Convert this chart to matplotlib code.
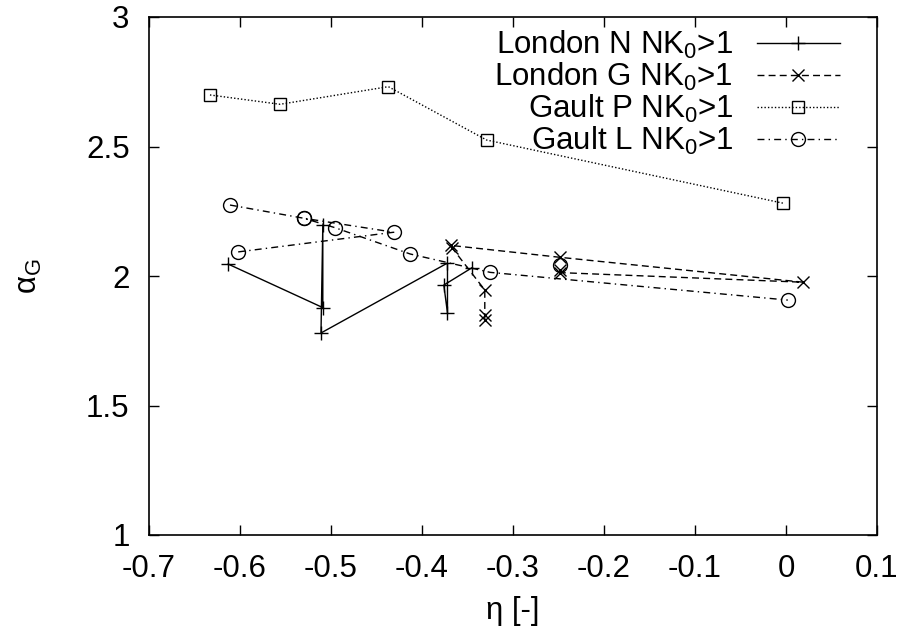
import numpy as np
import matplotlib
matplotlib.use('Agg')
import matplotlib.pyplot as plt
from matplotlib.ticker import FormatStrFormatter

plt.rcParams['font.family'] = ['Liberation Sans', 'DejaVu Sans']
plt.rcParams['mathtext.fontset'] = 'custom'
plt.rcParams['mathtext.rm'] = 'Liberation Sans'
plt.rcParams['axes.unicode_minus'] = False

nan = np.nan

# London N NK0>1
london_n_eta = [-0.613, -0.509, -0.509, -0.511, -0.372, -0.372, -0.376, -0.345]
london_n_alpha = [2.046, 1.878, 2.197, 1.780, 2.050, 1.857, 1.965, 2.032]

# London G NK0>1
london_g_eta = [-0.331, -0.331, -0.331, -0.367, -0.368, -0.248, 0.019, -0.248, -0.248]
london_g_alpha = [1.830, 1.849, 1.946, 2.109, 2.118, 2.072, 1.976, 2.013, 2.023]

# Gault P NK0>1
gault_p_eta = [-0.633, -0.556, -0.437, -0.329, -0.003]
gault_p_alpha = [2.699, 2.663, 2.731, 2.525, 2.281]

# Gault L NK0>1 (nan = break in the line)
gault_l_eta = [-0.611, -0.530, -0.496, -0.413, -0.325, 0.002, nan, -0.602, -0.431, -0.530, nan, -0.248]
gault_l_alpha = [2.274, 2.223, 2.187, 2.085, 2.014, 1.907, nan, 2.093, 2.169, 2.223, nan, 2.042]

x_ticks = [-0.7, -0.6, -0.5, -0.4, -0.3, -0.2, -0.1, 0, 0.1]
y_ticks = [1, 1.5, 2, 2.5, 3]

fs = 22.5

fig = plt.figure(figsize=(9.04, 6.39), dpi=100)
ax = fig.add_axes([149 / 904, 1 - 535 / 639, 728 / 904, 518 / 639])

ax.plot(london_n_eta, london_n_alpha, color='black', lw=1.0, ls='-',
        marker='+', ms=10, mew=1.0, label='London N NK$_{\\rm 0}$>1')
ax.plot(london_g_eta, london_g_alpha, color='black', lw=1.0, ls=(0, (5, 3)),
        marker='x', ms=9, mew=1.0, label='London G NK$_{\\rm 0}$>1')
ax.plot(gault_p_eta, gault_p_alpha, color='black', lw=1.0, ls=(0, (1, 1.5)),
        marker='s', ms=9, mfc='none', mew=1.0, label='Gault P NK$_{\\rm 0}$>1')
ax.plot(gault_l_eta, gault_l_alpha, color='black', lw=1.0, ls=(0, (5, 3, 1, 3)),
        marker='o', ms=10, mfc='none', mew=1.0, label='Gault L NK$_{\\rm 0}$>1')

ax.set_xlim(-0.7, 0.1)
ax.set_ylim(1, 3)
ax.set_xticks(x_ticks)
ax.set_yticks(y_ticks)
ax.xaxis.set_major_formatter(FormatStrFormatter('%g'))
ax.yaxis.set_major_formatter(FormatStrFormatter('%g'))
ax.tick_params(direction='in', length=7, width=1, top=True, right=True,
               labelsize=fs, pad=14)
for s in ax.spines.values():
    s.set_linewidth(1.2)

ax.set_xlabel('η [-]', fontsize=fs, labelpad=8)
ax.set_ylabel('α$_{\\rm G}$', fontsize=fs, labelpad=30)

leg = ax.legend(loc='upper right', bbox_to_anchor=(1.0, 1.05), markerfirst=False,
                frameon=False, fontsize=fs, handlelength=2.65, handletextpad=0.75,
                labelspacing=0.0, borderaxespad=0.6, borderpad=0.6)

fig.savefig('out.png', dpi=100)
